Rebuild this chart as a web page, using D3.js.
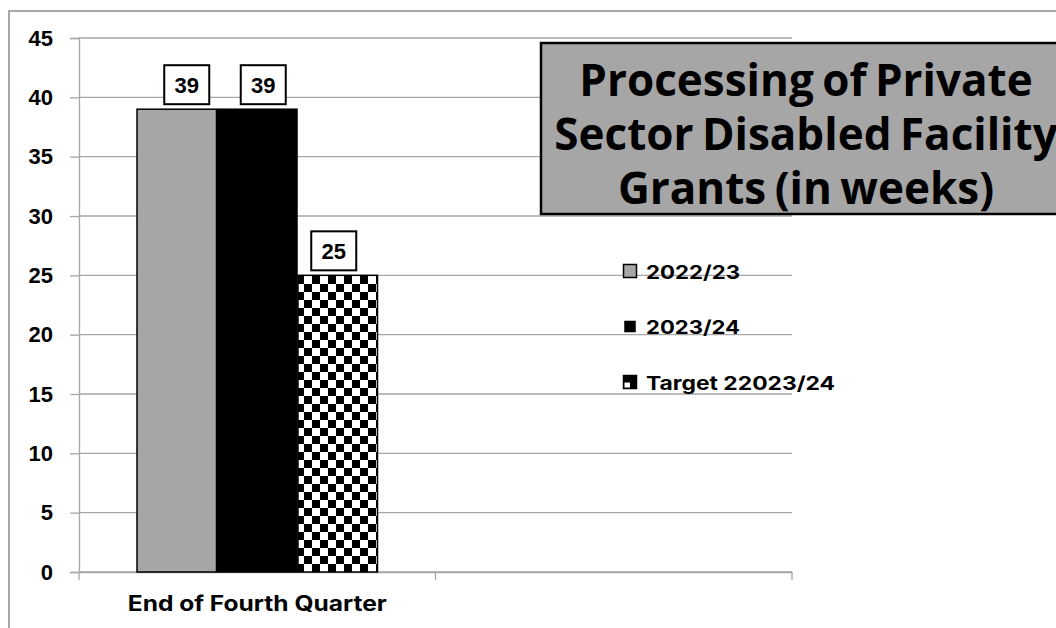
<!DOCTYPE html>
<html>
<head>
<meta charset="utf-8">
<script src="https://cdn.jsdelivr.net/npm/d3@7"></script>
<style>
  body { margin: 0; background: #fff; }
  svg { display: block; }
</style>
</head>
<body>
<svg id="chart" width="1056" height="628"></svg>
<script>
const categories = ["End of Fourth Quarter", ""];
const seriesNames = ["2022/23", "2023/24", "Target 22023/24"];
const seriesValues = [[39], [39], [25]];
const yTicks = [0, 5, 10, 15, 20, 25, 30, 35, 40, 45];
const titleLines = ["Processing of Private", "Sector Disabled Facility", "Grants (in weeks)"];

const svg = d3.select("#chart");
const plot = { left: 79, right: 792, top: 38, bottom: 572 };
// horizontal nudges of the value label boxes, as placed in the original
const labelShift = [9.5, 5.5, -4.5];

// checker pattern for the target series
const defs = svg.append("defs");
const pat = defs.append("pattern")
    .attr("id", "checker")
    .attr("patternUnits", "userSpaceOnUse")
    .attr("width", 16).attr("height", 16)
    .attr("x", 297).attr("y", 276);
pat.append("rect").attr("width", 16).attr("height", 16).attr("fill", "#fff");
pat.append("rect").attr("width", 8).attr("height", 8).attr("fill", "#000");
pat.append("rect").attr("x", 8).attr("y", 8).attr("width", 8).attr("height", 8).attr("fill", "#000");

const fills = ["#a6a6a6", "#000", "url(#checker)"];

// outer chart frame
svg.append("path")
    .attr("d", "M9,628 V11 H1056")
    .attr("fill", "none")
    .attr("stroke", "#8c8c8c")
    .attr("stroke-width", 1.5);

const y = d3.scaleLinear().domain([0, 45]).range([plot.bottom, plot.top]);
const x = d3.scaleBand().domain(categories).range([plot.left, plot.right]);
const xs = d3.scaleBand().domain(seriesNames)
    .range([58, x.bandwidth() - 57]).padding(0);

// gridlines
svg.append("g")
    .selectAll("line")
    .data(yTicks)
    .join("line")
    .attr("x1", plot.left).attr("x2", plot.right)
    .attr("y1", d => y(d)).attr("y2", d => y(d))
    .attr("stroke", "#a6a6a6").attr("stroke-width", 1.3);

// y axis
const yAxis = svg.append("g")
    .attr("transform", `translate(${plot.left},0)`)
    .call(d3.axisLeft(y).tickValues(yTicks).tickSize(9).tickPadding(17));
yAxis.select(".domain").attr("stroke", "#a6a6a6").attr("stroke-width", 1.3);
yAxis.selectAll(".tick line").attr("stroke", "#a6a6a6").attr("stroke-width", 1.3);
yAxis.selectAll("text")
    .attr("font-family", "Liberation Sans, Arial, sans-serif")
    .attr("font-weight", "bold")
    .attr("font-size", 22)
    .attr("fill", "#000");

// x axis
const xAxis = svg.append("g")
    .attr("transform", `translate(0,${plot.bottom})`)
    .call(d3.axisBottom(x).tickSize(0).tickPadding(24));
xAxis.select(".domain").attr("stroke", "#a6a6a6").attr("stroke-width", 1.3);
xAxis.selectAll("text")
    .attr("font-family", "Inter, 'Open Sans', sans-serif")
    .attr("font-weight", "bold")
    .attr("font-size", 21)
    .attr("fill", "#000")
    .filter(d => d)
    .attr("textLength", 259)
    .attr("lengthAdjust", "spacingAndGlyphs");
const bounds = [x(categories[0]), x(categories[1]), x(categories[1]) + x.bandwidth()];
xAxis.selectAll(".bound")
    .data(bounds)
    .join("line")
    .attr("class", "bound")
    .attr("x1", d => d).attr("x2", d => d)
    .attr("y1", 0).attr("y2", 8)
    .attr("stroke", "#a6a6a6").attr("stroke-width", 1.3);

// bars
const bars = svg.append("g");
seriesNames.forEach((s, i) => {
  const g = bars.append("g").attr("transform", `translate(${x(categories[0])},0)`);
  g.selectAll("rect")
    .data(seriesValues[i])
    .join("rect")
    .attr("x", xs(s))
    .attr("width", xs.bandwidth() - 1)
    .attr("y", d => y(d))
    .attr("height", d => y(0) - y(d))
    .attr("fill", fills[i])
    .attr("stroke", "#000")
    .attr("stroke-width", 1.5);

  // value label boxes
  const lab = g.selectAll("g.lab")
    .data(seriesValues[i])
    .join("g")
    .attr("class", "lab")
    .attr("transform", d => `translate(${xs(s) + xs.bandwidth() / 2 + labelShift[i]},${y(d) - 5})`);
  lab.append("rect")
    .attr("x", -22.5).attr("y", -39)
    .attr("width", 45).attr("height", 39)
    .attr("fill", "#fff").attr("stroke", "#000").attr("stroke-width", 2);
  lab.append("text")
    .attr("text-anchor", "middle")
    .attr("y", -11.5)
    .attr("font-family", "Liberation Sans, Arial, sans-serif")
    .attr("font-weight", "bold")
    .attr("font-size", 22)
    .text(d => d);
});

// title box
const tb = svg.append("g");
tb.append("rect")
    .attr("x", 541).attr("y", 43)
    .attr("width", 534).attr("height", 171)
    .attr("fill", "#a6a6a6")
    .attr("stroke", "#000").attr("stroke-width", 2.5);
tb.selectAll("text")
    .data(titleLines)
    .join("text")
    .attr("x", 806)
    .attr("y", (d, i) => 96 + i * 54)
    .attr("text-anchor", "middle")
    .attr("font-family", "'Open Sans', sans-serif")
    .attr("font-weight", "bold")
    .attr("font-size", 44)
    .attr("word-spacing", -3)
    .attr("fill", "#000")
    .text(d => d);

// legend
const legendSizes = [13, 10, 13];
const legendWidths = [94, 94, 189];
const leg = svg.append("g");
seriesNames.forEach((s, i) => {
  const cy = 271 + i * 55.5;
  const sz = legendSizes[i];
  leg.append("rect")
    .attr("x", 630 - sz / 2).attr("y", cy - sz / 2)
    .attr("width", sz).attr("height", sz)
    .attr("fill", i === 2 ? "#000" : fills[i])
    .attr("stroke", "#000").attr("stroke-width", 1.5);
  if (i === 2) {
    leg.append("rect")
      .attr("x", 630 - sz / 2 + 1).attr("y", cy + 0.5)
      .attr("width", sz / 2 - 1).attr("height", sz / 2 - 1.5)
      .attr("fill", "#fff");
  }
  leg.append("text")
    .attr("x", 646).attr("y", cy + 7.5)
    .attr("font-family", "Inter, 'Open Sans', sans-serif")
    .attr("font-weight", "bold")
    .attr("font-size", 19)
    .attr("textLength", legendWidths[i])
    .attr("lengthAdjust", "spacingAndGlyphs")
    .attr("fill", "#000")
    .text(s);
});
</script>
</body>
</html>
